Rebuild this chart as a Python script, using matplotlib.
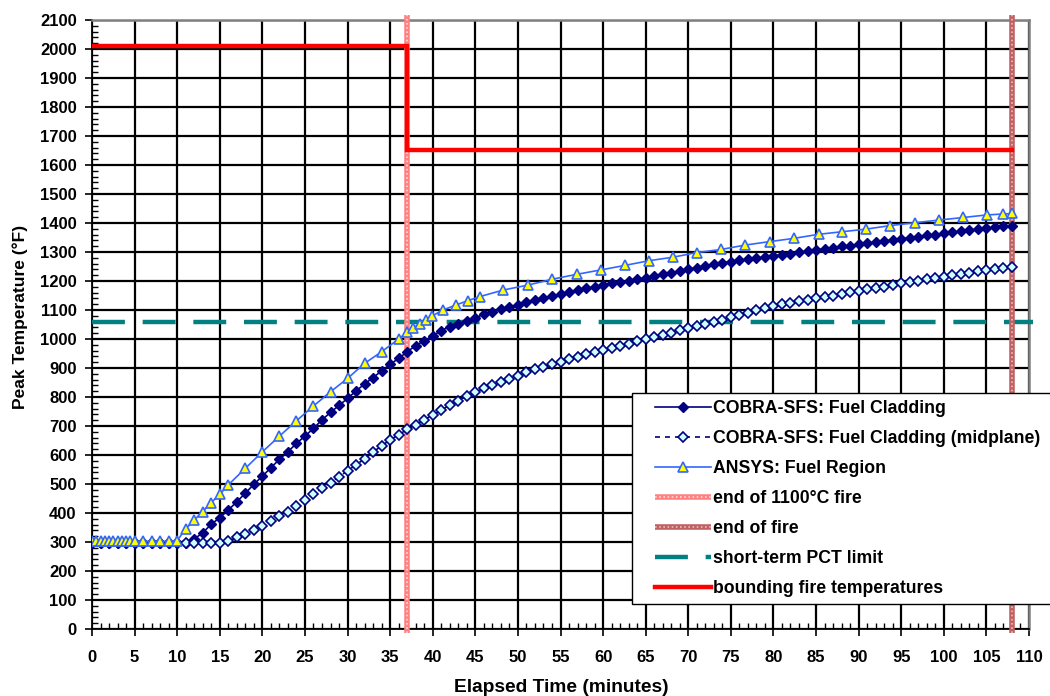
import matplotlib
matplotlib.use("Agg")
import matplotlib.pyplot as plt
from matplotlib.patches import Rectangle
from matplotlib.legend_handler import HandlerTuple
from matplotlib.ticker import MultipleLocator

plt.rcParams['font.family'] = ['Liberation Sans', 'DejaVu Sans']
plt.rcParams['font.weight'] = 'bold'

# ---------------- data ----------------
clad_t = list(range(0, 109))
clad_T = [295, 295, 295, 295, 295, 295, 295, 295, 295, 295,
          295, 297, 310, 332, 361, 384, 410, 439, 468, 499,
          527, 556, 585, 611, 640, 665, 692, 721, 747, 771,
          795, 821, 845, 867, 890, 913, 933, 956, 977, 994,
          1011, 1029, 1043, 1051, 1062, 1073, 1085, 1094, 1102, 1109,
          1117, 1126, 1134, 1140, 1148, 1155, 1161, 1169, 1175, 1180,
          1186, 1192, 1196, 1201, 1206, 1211, 1217, 1223, 1229, 1235,
          1241, 1246, 1251, 1257, 1262, 1267, 1271, 1275, 1279, 1283,
          1286, 1290, 1294, 1299, 1303, 1307, 1311, 1315, 1319, 1322,
          1326, 1330, 1334, 1338, 1341, 1345, 1349, 1353, 1357, 1360,
          1364, 1368, 1371, 1375, 1378, 1382, 1385, 1388, 1391]

mid_t = list(range(0, 109))
mid_T = [295, 295, 295, 295, 295, 295, 295, 295, 295, 295,
         295, 295, 295, 295, 295, 295, 303, 316, 327, 341,
         356, 373, 390, 405, 425, 445, 466, 485, 505, 525,
         546, 566, 587, 610, 632, 652, 670, 688, 705, 722,
         738, 755, 772, 787, 803, 816, 830, 841, 853, 863,
         873, 885, 896, 904, 914, 922, 930, 939, 947, 954,
         962, 970, 977, 984, 992, 1000, 1007, 1014, 1022, 1030,
         1038, 1045, 1052, 1060, 1067, 1075, 1083, 1091, 1099, 1107,
         1114, 1119, 1124, 1130, 1135, 1140, 1145, 1150, 1156, 1161,
         1166, 1171, 1176, 1181, 1187, 1192, 1196, 1201, 1206, 1210,
         1215, 1220, 1224, 1229, 1233, 1238, 1242, 1246, 1249]

ansys_t = [0, 0.5, 1, 1.5, 2, 2.5, 3, 3.5, 4, 4.5, 5, 6, 7, 8, 9, 10,
           11, 12, 13, 14, 15, 16, 18, 20, 22, 24, 26, 28, 30, 32, 34, 36,
           37, 37.7, 38.5, 39.2, 39.9, 41.2, 42.7, 44.1, 45.5, 48.3, 51.2,
           54.0, 56.9, 59.7, 62.6, 65.4, 68.2, 71.0, 73.9, 76.7, 79.6, 82.4,
           85.3, 88.1, 90.9, 93.7, 96.6, 99.4, 102.3, 105.1, 107, 108]
ansys_T = [302, 302, 302, 302, 302, 302, 302, 302, 302, 302, 302, 302, 302, 302, 302, 305,
           345, 376, 405, 436, 464, 497, 554, 611, 665, 718, 769, 818, 864, 916, 956, 1000,
           1023, 1039, 1052, 1066, 1079, 1100, 1117, 1132, 1146, 1169, 1186,
           1206, 1223, 1238, 1254, 1270, 1282, 1298, 1309, 1324, 1336, 1347,
           1361, 1370, 1379, 1391, 1401, 1410, 1419, 1428, 1431, 1433]

fire_t = [0, 37, 37, 108]
fire_T = [2012, 2012, 1652, 1652]

end_1100_t = 37
end_fire_t = 108
pct_limit = 1058

x_ticks = list(range(0, 111, 5))
y_ticks = list(range(0, 2101, 100))

# ---------------- figure ----------------
W, H = 1050, 696
fig = plt.figure(figsize=(W / 100, H / 100), dpi=100)
ax = fig.add_axes([92 / W, 1 - 629 / H, (1029 - 92) / W, (629 - 20) / H])

ax.set_xlim(0, 110)
ax.set_ylim(0, 2100)
ax.set_xticks(x_ticks)
ax.set_yticks(y_ticks)
ax.xaxis.set_minor_locator(MultipleLocator(1))
ax.yaxis.set_minor_locator(MultipleLocator(20))
ax.grid(True, which='major', color='black', linewidth=1.6, zorder=0)
ax.set_axisbelow(True)

ax.tick_params(axis='both', which='major', direction='out', length=5, width=1.2,
               labelsize=12, color='black')
ax.tick_params(axis='y', which='major', pad=6)
ax.tick_params(axis='x', which='major', pad=10)
ax.tick_params(axis='both', which='minor', direction='in', length=4, width=1.0,
               color='black')
for lab in ax.get_xticklabels() + ax.get_yticklabels():
    lab.set_fontweight('bold')

for s in ['left', 'bottom']:
    ax.spines[s].set_color('black')
    ax.spines[s].set_linewidth(1.3)
for s in ['top', 'right']:
    ax.spines[s].set_color('#808080')
    ax.spines[s].set_linewidth(1.8)

# data series
l_clad, = ax.plot(clad_t, clad_T, color='#000080', linewidth=1.2, marker='D',
                  markersize=5, markerfacecolor='#000080', markeredgecolor='#000080',
                  zorder=5, label='COBRA-SFS: Fuel Cladding')
l_mid, = ax.plot(mid_t, mid_T, color='#000080', linewidth=1.2, linestyle=(0, (3, 3)),
                 marker='D', markersize=5, markerfacecolor='#CCFFFF',
                 markeredgecolor='#000080', markeredgewidth=1.2, zorder=5,
                 label='COBRA-SFS: Fuel Cladding (midplane)')
l_ansys, = ax.plot(ansys_t, ansys_T, color='#3366FF', linewidth=1.2, marker='^',
                   markersize=7.5, markerfacecolor='#FFFF00', markeredgecolor='#3366FF',
                   markeredgewidth=1.2, zorder=6, label='ANSYS: Fuel Region')

# vertical event lines (hatched look)
v1 = ax.axvline(end_1100_t, ymin=-0.006, ymax=1.008, color='#FF8080', linewidth=4,
                clip_on=False, zorder=4, solid_capstyle='butt')
v1d = ax.axvline(end_1100_t, ymin=-0.006, ymax=1.008, color='white', linewidth=1.2,
                 linestyle=(0, (1, 1.5)), alpha=0.7, clip_on=False, zorder=4)
v2 = ax.axvline(end_fire_t, ymin=-0.006, ymax=1.008, color='#C06060', linewidth=4,
                clip_on=False, zorder=4, solid_capstyle='butt')
v2d = ax.axvline(end_fire_t, ymin=-0.006, ymax=1.008, color='white', linewidth=1.2,
                 linestyle=(0, (1, 1.5)), alpha=0.6, clip_on=False, zorder=4)

# PCT limit
l_pct, = ax.plot([0, 110.5], [pct_limit, pct_limit], color='#008080', linewidth=3.2,
                 linestyle=(0, (7.4, 4.0)), dash_capstyle='butt', clip_on=False, zorder=3)

# bounding fire temperatures
l_fire, = ax.plot(fire_t, fire_T, color='#FF0000', linewidth=3.2, zorder=4,
                  solid_joinstyle='miter')

# axis labels
fig.text(20 / W, 1 - 317 / H, 'Peak Temperature (°F)', rotation=90, fontsize=12.5,
         fontweight='bold', ha='center', va='center')
fig.text(561 / W, 1 - 688 / H, 'Elapsed Time (minutes)', fontsize=13.8,
         fontweight='bold', ha='center', va='center')

# legend frame
fig.patches.append(Rectangle((632 / W, 1 - 604 / H), (W + 10 - 632) / W, (604 - 393) / H,
                             transform=fig.transFigure, facecolor='white',
                             edgecolor='black', linewidth=1.0, zorder=10))

handles = [l_clad, l_mid, l_ansys, (v1, v1d), (v2, v2d), l_pct, l_fire]
labels = ['COBRA-SFS: Fuel Cladding', 'COBRA-SFS: Fuel Cladding (midplane)',
          'ANSYS: Fuel Region', 'end of 1100°C fire', 'end of fire',
          'short-term PCT limit', 'bounding fire temperatures']
leg = fig.legend(handles, labels, loc='upper left',
                 bbox_to_anchor=(655 / W, 1 - 400 / H), frameon=False,
                 borderpad=0, borderaxespad=0, handlelength=3.2,
                 handletextpad=0.06, labelspacing=0.74,
                 handler_map={tuple: HandlerTuple(ndivide=1, pad=0)},
                 prop={'weight': 'bold', 'size': 12.7})
leg.set_zorder(11)

fig.savefig('out.png', dpi=100)
